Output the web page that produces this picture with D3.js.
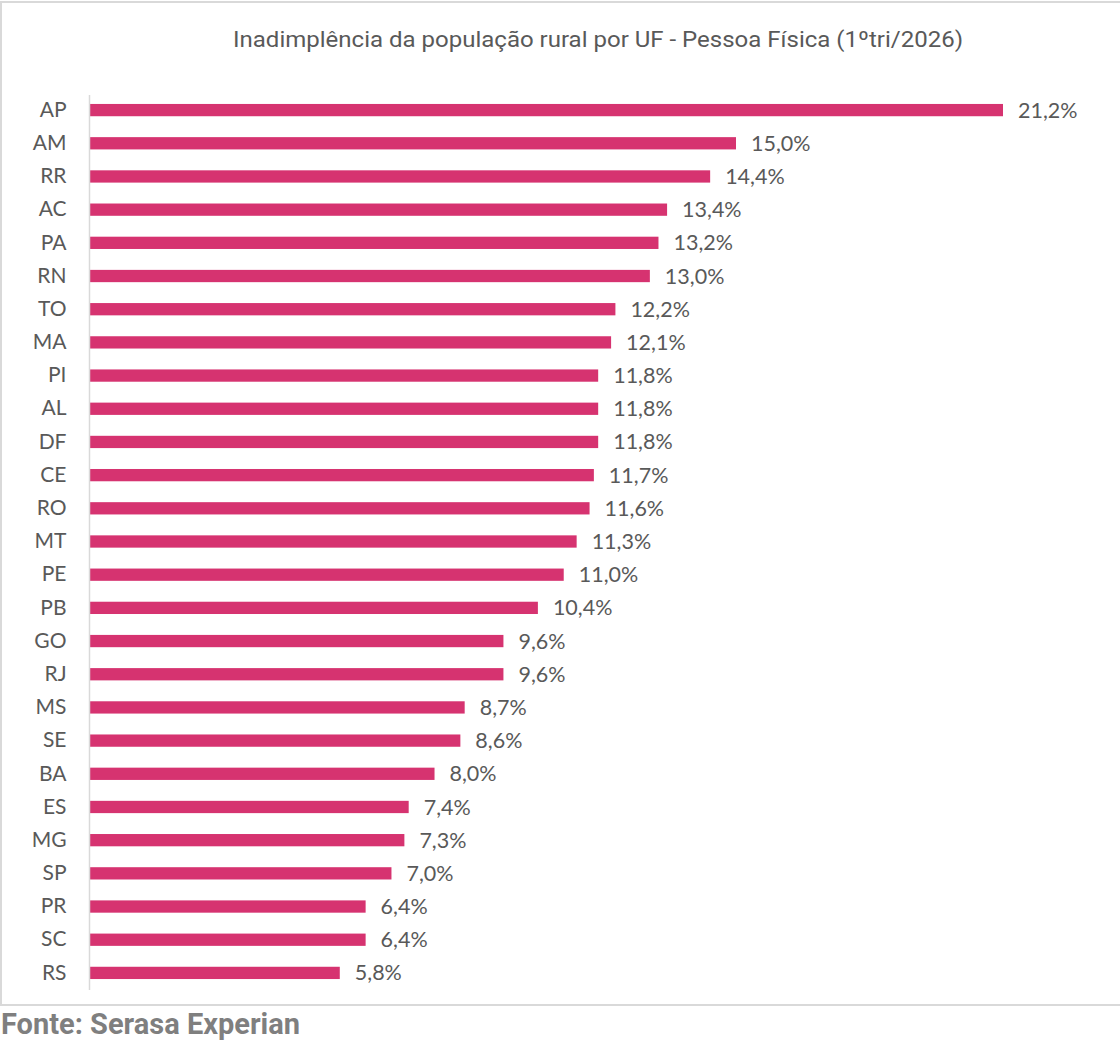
<!DOCTYPE html>
<html>
<head>
<meta charset="utf-8">
<script src="https://cdn.jsdelivr.net/npm/d3@7"></script>
<style>
  body { margin: 0; background: #fff; }
</style>
</head>
<body>
<script>
// data
var ufs = ["AP","AM","RR","AC","PA","RN","TO","MA","PI","AL","DF","CE","RO","MT","PE","PB","GO","RJ","MS","SE","BA","ES","MG","SP","PR","SC","RS"];
var rates = [21.2,15.0,14.4,13.4,13.2,13.0,12.2,12.1,11.8,11.8,11.8,11.7,11.6,11.3,11.0,10.4,9.6,9.6,8.7,8.6,8.0,7.4,7.3,7.0,6.4,6.4,5.8];
var title = "Inadimplência da população rural por UF - Pessoa Física (1ºtri/2026)";
var source = "Fonte: Serasa Experian";

var width = 1120, height = 1048;
var margin = {top: 94, right: 117, bottom: 58, left: 90};

var svg = d3.select("body").append("svg")
    .attr("width", width)
    .attr("height", height);

// chart frame
svg.append("rect")
    .attr("x", 1).attr("y", 2)
    .attr("width", width + 10).attr("height", 1003)
    .attr("fill", "none")
    .attr("stroke", "#d9d9d9")
    .attr("stroke-width", 2);

var x = d3.scaleLinear().domain([0, 21.2]).range([margin.left, 1003]);
var y = d3.scaleBand().domain(ufs).range([94, 989]).paddingInner(0.63).paddingOuter(0.3);

svg.append("text")
    .attr("x", 598)
    .attr("y", 47)
    .attr("text-anchor", "middle")
    .attr("textLength", 730)
    .attr("lengthAdjust", "spacingAndGlyphs")
    .style("font-family", "Roboto")
    .style("font-size", "22px")
    .style("fill", "#595959")
    .text(title);

var data = ufs.map(function(d, i) { return {uf: d, rate: rates[i]}; });

svg.selectAll(".bar")
    .data(data)
    .enter().append("rect")
    .attr("class", "bar")
    .attr("x", x(0))
    .attr("y", function(d) { return y(d.uf); })
    .attr("width", function(d) { return x(d.rate) - x(0); })
    .attr("height", y.bandwidth())
    .attr("fill", "#d63370");

// y axis: only the line + labels
var yAxis = svg.append("g")
    .attr("transform", "translate(" + (x(0) - 0.5) + ",0)")
    .call(d3.axisLeft(y).tickSize(0).tickPadding(23));
yAxis.select(".domain")
    .attr("d", "M0,95V990")
    .attr("stroke", "#d9d9d9")
    .attr("stroke-width", 1.5);
yAxis.selectAll("text")
    .style("font-family", "Lato")
    .style("font-size", "21px")
    .style("fill", "#595959");

svg.selectAll(".val")
    .data(data)
    .enter().append("text")
    .attr("class", "val")
    .attr("x", function(d) { return x(d.rate) + 15; })
    .attr("y", function(d) { return y(d.uf) + y.bandwidth() / 2; })
    .attr("dy", "0.35em")
    .style("font-family", "Lato")
    .style("font-size", "21.5px")
    .style("fill", "#595959")
    .text(function(d) { return d3.format(".1f")(d.rate).replace(".", ",") + "%"; });

svg.append("text")
    .attr("x", 1)
    .attr("y", 1034)
    .style("font-family", "Roboto")
    .style("font-weight", "bold")
    .style("font-size", "29px")
    .style("fill", "#7f7f7f")
    .text(source);
</script>
</body>
</html>
